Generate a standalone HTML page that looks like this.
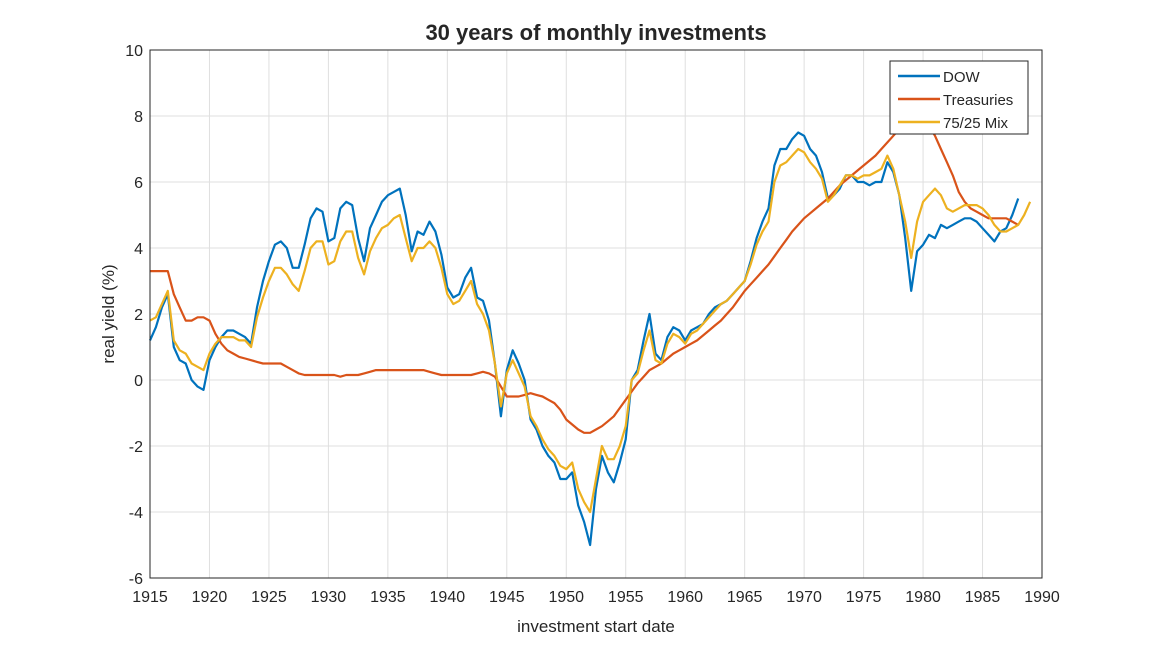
<!DOCTYPE html>
<html><head><meta charset="utf-8"><style>
body{margin:0;background:#fff;}
svg text{font-family:"Liberation Sans",Arial,sans-serif;fill:#262626;}
</style></head><body>
<svg id="chart" width="1150" height="650">
<rect x="0" y="0" width="1150" height="650" fill="#fff"/>
<text x="596" y="40" text-anchor="middle" font-size="22" font-weight="bold">30 years of monthly investments</text>
<g id="grid"></g>
<g id="series"></g>
<rect x="150" y="50" width="892" height="528" fill="none" stroke="#262626" stroke-width="1"/>
<g id="ticks"></g>
<text x="596" y="632" text-anchor="middle" font-size="17">investment start date</text>
<text transform="translate(114,314) rotate(-90)" text-anchor="middle" font-size="17">real yield (%)</text>
<g>
<rect x="890" y="61" width="138" height="73" fill="#fff" stroke="#262626" stroke-width="1"/>
<line x1="898" y1="76" x2="940" y2="76" stroke="#0072BD" stroke-width="2.5"/>
<text x="943" y="82" font-size="15">DOW</text>
<line x1="898" y1="99" x2="940" y2="99" stroke="#D95319" stroke-width="2.5"/>
<text x="943" y="105" font-size="15">Treasuries</text>
<line x1="898" y1="122" x2="940" y2="122" stroke="#EDB120" stroke-width="2.5"/>
<text x="943" y="128" font-size="15">75/25 Mix</text>
</g>
</svg>
<script>
const xTicks=[1915,1920,1925,1930,1935,1940,1945,1950,1955,1960,1965,1970,1975,1980,1985,1990];
const yTicks=[-6,-4,-2,0,2,4,6,8,10];
const startYear=1915, step=0.5;
const dow=[1.2,1.6,2.2,2.6,1.0,0.6,0.5,0.0,-0.2,-0.3,0.6,1.0,1.3,1.5,1.5,1.4,1.3,1.1,2.2,3.0,3.6,4.1,4.2,4.0,3.4,3.4,4.1,4.9,5.2,5.1,4.2,4.3,5.2,5.4,5.3,4.3,3.6,4.6,5.0,5.4,5.6,5.7,5.8,5.0,3.9,4.5,4.4,4.8,4.5,3.8,2.8,2.5,2.6,3.1,3.4,2.5,2.4,1.8,0.5,-1.1,0.3,0.9,0.5,0.0,-1.2,-1.5,-2.0,-2.3,-2.5,-3.0,-3.0,-2.8,-3.8,-4.3,-5.0,-3.3,-2.3,-2.8,-3.1,-2.5,-1.8,0.0,0.3,1.2,2.0,0.8,0.6,1.3,1.6,1.5,1.2,1.5,1.6,1.7,2.0,2.2,2.3,2.4,2.6,2.8,3.0,3.6,4.3,4.8,5.2,6.5,7.0,7.0,7.3,7.5,7.4,7.0,6.8,6.3,5.5,5.6,5.8,6.2,6.2,6.0,6.0,5.9,6.0,6.0,6.6,6.3,5.6,4.3,2.7,3.9,4.1,4.4,4.3,4.7,4.6,4.7,4.8,4.9,4.9,4.8,4.6,4.4,4.2,4.5,4.6,5.0,5.5];
const treasuries=[3.3,3.3,3.3,3.3,2.6,2.2,1.8,1.8,1.9,1.9,1.8,1.4,1.1,0.9,0.8,0.7,0.65,0.6,0.55,0.5,0.5,0.5,0.5,0.4,0.3,0.2,0.15,0.15,0.15,0.15,0.15,0.15,0.1,0.15,0.15,0.15,0.2,0.25,0.3,0.3,0.3,0.3,0.3,0.3,0.3,0.3,0.3,0.25,0.2,0.15,0.15,0.15,0.15,0.15,0.15,0.2,0.25,0.2,0.1,-0.2,-0.5,-0.5,-0.5,-0.45,-0.4,-0.45,-0.5,-0.6,-0.7,-0.9,-1.2,-1.35,-1.5,-1.6,-1.6,-1.5,-1.4,-1.25,-1.1,-0.85,-0.6,-0.35,-0.1,0.1,0.3,0.4,0.5,0.65,0.8,0.9,1.0,1.1,1.2,1.35,1.5,1.65,1.8,2.0,2.2,2.45,2.7,2.9,3.1,3.3,3.5,3.75,4.0,4.25,4.5,4.7,4.9,5.05,5.2,5.35,5.5,5.7,5.9,6.05,6.2,6.35,6.5,6.65,6.8,7.0,7.2,7.4,7.6,7.7,7.8,7.8,7.7,7.7,7.4,7.0,6.6,6.2,5.7,5.4,5.2,5.1,5.0,4.9,4.9,4.9,4.9,4.8,4.7];
const mix=[1.8,1.9,2.3,2.7,1.2,0.9,0.8,0.5,0.4,0.3,0.8,1.1,1.3,1.3,1.3,1.2,1.2,1.0,1.9,2.5,3.0,3.4,3.4,3.2,2.9,2.7,3.3,4.0,4.2,4.2,3.5,3.6,4.2,4.5,4.5,3.7,3.2,3.9,4.3,4.6,4.7,4.9,5.0,4.3,3.6,4.0,4.0,4.2,4.0,3.4,2.6,2.3,2.4,2.7,3.0,2.3,2.0,1.5,0.5,-0.8,0.2,0.6,0.2,-0.2,-1.1,-1.4,-1.8,-2.1,-2.3,-2.6,-2.7,-2.5,-3.3,-3.7,-4.0,-3.0,-2.0,-2.4,-2.4,-2.0,-1.4,0.0,0.2,0.9,1.5,0.6,0.5,1.1,1.4,1.3,1.1,1.4,1.5,1.7,1.9,2.1,2.3,2.4,2.6,2.8,3.0,3.5,4.1,4.5,4.8,6.0,6.5,6.6,6.8,7.0,6.9,6.6,6.4,6.1,5.4,5.6,5.9,6.2,6.2,6.1,6.2,6.2,6.3,6.4,6.8,6.4,5.6,4.8,3.7,4.8,5.4,5.6,5.8,5.6,5.2,5.1,5.2,5.3,5.3,5.3,5.2,5.0,4.7,4.5,4.5,4.6,4.7,5.0,5.4];

const NS='http://www.w3.org/2000/svg';
const X0=150,X1=1042,Y0=578,Y1=50;
function xs(v){return X0+(v-1915)/(1990-1915)*(X1-X0);}
function ys(v){return Y0-(v+6)/16*(Y0-Y1);}
const grid=document.getElementById('grid'),ticks=document.getElementById('ticks'),series=document.getElementById('series');
function mk(tag,attrs,parent){const e=document.createElementNS(NS,tag);for(const k in attrs)e.setAttribute(k,attrs[k]);parent.appendChild(e);return e;}
xTicks.forEach(t=>{
  const gl=mk('line',{x1:xs(t),x2:xs(t),y1:Y1,y2:Y0,stroke:'#dfdfdf','stroke-width':1},grid);
  
  
  const tx=mk('text',{x:xs(t),y:Y0+24,'text-anchor':'middle','font-size':16},ticks);
  tx.textContent=t;
  
  
});
yTicks.forEach(t=>{
  const gl=mk('line',{x1:X0,x2:X1,y1:ys(t),y2:ys(t),stroke:'#dfdfdf','stroke-width':1},grid);
  
  
  const tx=mk('text',{x:X0-7,y:ys(t)+6,'text-anchor':'end','font-size':16},ticks);
  tx.textContent=t;
  
  
});
function draw(arr,color,name){
  const pts=arr.map((v,i)=>xs(startYear+i*step).toFixed(1)+','+ys(v).toFixed(1)).join(' ');
  const p=mk('polyline',{points:pts,fill:'none',stroke:color,'stroke-width':2.2,'stroke-linejoin':'round'},series);
  
  
}
draw(dow,'#0072BD','dow-line');
draw(treasuries,'#D95319','treasuries-line');
draw(mix,'#EDB120','mix-line');
</script>
</body></html>
